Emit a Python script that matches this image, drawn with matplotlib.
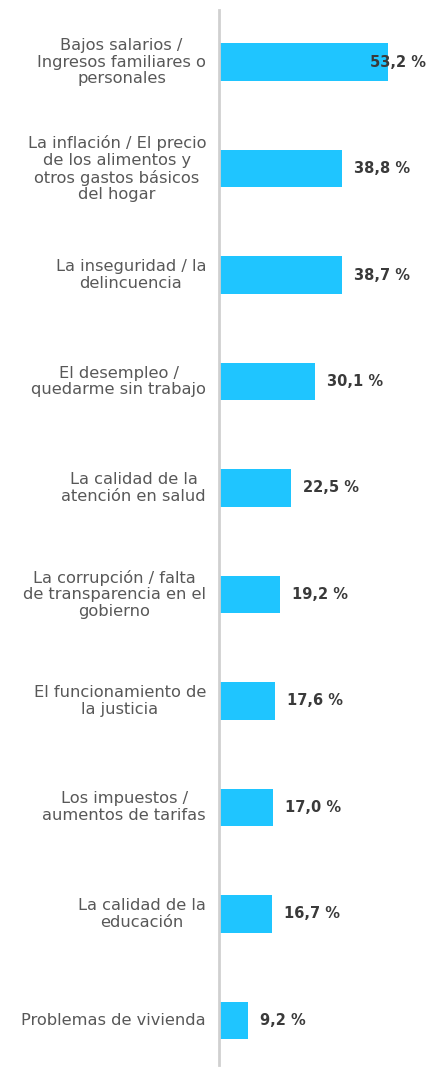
import matplotlib
matplotlib.use("Agg")
import matplotlib.pyplot as plt
from matplotlib.transforms import offset_copy

categories = [
    "Bajos salarios /\nIngresos familiares o\npersonales",
    "La inflación / El precio\nde los alimentos y\notros gastos básicos\ndel hogar",
    "La inseguridad / la\ndelincuencia",
    "El desempleo /\nquedarme sin trabajo",
    "La calidad de la\natención en salud",
    "La corrupción / falta\nde transparencia en el\ngobierno",
    "El funcionamiento de\nla justicia",
    "Los impuestos /\naumentos de tarifas",
    "La calidad de la\neducación",
    "Problemas de vivienda",
]
values = [53.2, 38.8, 38.7, 30.1, 22.5, 19.2, 17.6, 17.0, 16.7, 9.2]
value_labels = ["53,2 %", "38,8 %", "38,7 %", "30,1 %", "22,5 %",
                "19,2 %", "17,6 %", "17,0 %", "16,7 %", "9,2 %"]

W, H = 432, 1070
fig = plt.figure(figsize=(W / 100, H / 100), dpi=100)
left_px, top_px, bottom_px = 219, 10, 1065
ax = fig.add_axes([left_px / W, (H - bottom_px) / H, (W - left_px) / W, (bottom_px - top_px) / H])

px_per_unit = 3.18
ax.set_xlim(0, (W - left_px) / px_per_unit)
ax.set_ylim(9.42, -0.489)

ys = list(range(len(values)))
ax.barh(ys, values, height=0.352, color="#1FC5FF", zorder=2)

for s in ["top", "right", "bottom"]:
    ax.spines[s].set_visible(False)
ax.spines["left"].set_color("#D0D0D0")
ax.spines["left"].set_linewidth(2)
ax.set_xticks([])
ax.set_yticks([])
ax.patch.set_alpha(0)

fam = ["DejaVu Sans"]
lab_trans = offset_copy(ax.transData, fig=fig, x=-13, y=0, units="dots")
for y, c in zip(ys, categories):
    ax.text(0, y, c, transform=lab_trans, ha="right", va="center",
            multialignment="center", fontsize=11.7, color="#585858",
            family=fam, linespacing=1.15, clip_on=False)

xmax_text_px = W - 4
for y, v, t in zip(ys, values, value_labels):
    end_px = left_px + v * px_per_unit
    start_px = end_px + 12
    est_w = 58
    if start_px + est_w > xmax_text_px:
        start_px = xmax_text_px - est_w
    xd = (start_px - left_px) / px_per_unit
    ax.text(xd, y, t, ha="left", va="center", fontsize=10.5, fontweight="bold",
            color="#3A3A3A", family=fam, zorder=3, clip_on=False)

fig.savefig("out.png", dpi=100)
